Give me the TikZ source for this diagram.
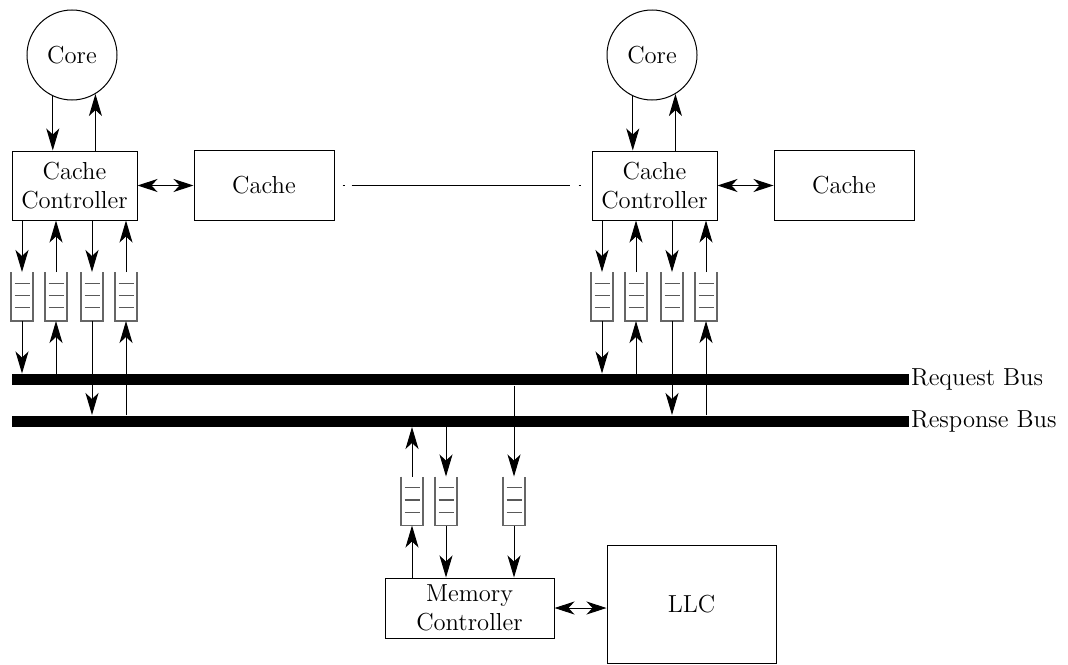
\documentclass[tikz,border=0pt]{standalone}
\usepackage{tikz}
\usetikzlibrary{arrows.meta,positioning,calc}
\newcommand{\queue}[2]{%
  \node[queue] (#1) at (#2) {};
  \draw[qwall] (#1.north west) |- (#1.south) -| (#1.north east);
  \foreach \f in {0.23,0.48,0.73}
    \draw[qbar] ($(#1.north west)!\f!(#1.south west)+(1.75pt,0)$) -- ($(#1.north east)!\f!(#1.south east)+(-1.75pt,0)$);
}
\begin{document}
\begin{tikzpicture}[
    x=0.5pt, y=-0.5pt,
    line width=0.5pt,
    every node/.style={font=\fontsize{12.3}{14.8}\selectfont},
    box/.style={rectangle,draw,align=center,inner sep=0pt},
    core/.style={circle,draw,minimum size=45pt,inner sep=0pt},
    bus/.style={rectangle,fill=black,minimum width=448.5pt,minimum height=5.5pt,inner sep=0pt},
    queue/.style={rectangle,minimum width=10.5pt,minimum height=24pt,inner sep=0pt},
    qwall/.style={draw=black!60,line width=0.6pt},
    qbar/.style={draw=black!65,line width=0.6pt},
    arrow/.style={-{Stealth[length=11pt,width=6.5pt,inset=3pt]}},
    twoway/.style={{Stealth[length=10pt,width=6.5pt,inset=3pt]}-{Stealth[length=10pt,width=6.5pt,inset=3pt]}}
  ]
    \useasboundingbox (0,0) rectangle (1068,664);

    % buses
    \node[bus] (reqbus) at (460.5,379.5) {};
    \node[right=0.5pt of reqbus,inner sep=0pt] (reqlabel) {Request Bus};
    \node[bus] (respbus) at (460.5,421) {};
    \node[right=0.5pt of respbus,inner sep=0pt] (resplabel) {Response Bus};

    % the two cores with their controllers
    \foreach \g/\dx in {l/0,r/580}{
      \node[core] (core\g) at (72+\dx,55) {Core};
      \node[box,minimum width=62.5pt,minimum height=34.5pt] (cc\g) at (74.5+\dx,185.5) {Cache\\Controller};
      \node[box,minimum width=70pt,minimum height=35pt,right=28pt of cc\g] (cache\g) {Cache};
      \queue{qa\g}{22+\dx,296.5}
      \queue{qb\g}{56+\dx,296.5}
      \queue{qc\g}{92+\dx,296.5}
      \queue{qd\g}{126+\dx,296.5}

      \draw[arrow] (core\g.245) -- (core\g.245 |- cc\g.north);
      \draw[arrow] (core\g.-59 |- cc\g.north) -- (core\g.-59);
      \draw[twoway] (cc\g) -- (cache\g);
      \draw[arrow] (qa\g.north |- cc\g.south) -- (qa\g.north);
      \draw[arrow] (qa\g.south) -- (qa\g.south |- reqbus.north);
      \draw[arrow] (qb\g.south |- reqbus.north) -- (qb\g.south);
      \draw[arrow] (qb\g.north) -- (qb\g.north |- cc\g.south);
      \draw[arrow] (qc\g.north |- cc\g.south) -- (qc\g.north);
      \draw[arrow] (qc\g.south) -- (qc\g.south |- respbus.north);
      \draw[arrow] (qd\g.south |- respbus.north) -- (qd\g.south);
      \draw[arrow] (qd\g.north) -- (qd\g.north |- cc\g.south);
    }
    \draw[dash pattern=on 0pt off 4pt on 1pt off 3.5pt on 109pt off 4.5pt on 1pt off 20pt] (cachel.east) -- (ccr.west);

    % memory side
    \node[box,minimum width=84.5pt,minimum height=30pt] (mc) at (469.5,608) {Memory\\Controller};
    \node[box,minimum width=84.5pt,minimum height=59pt] (llc) at (691.5,604) {LLC};
    \queue{mqa}{412,501}
    \queue{mqb}{446,501}
    \queue{mqc}{514,501}

    \draw[arrow] (mqa.south |- mc.north) -- (mqa.south);
    \draw[arrow] (mqa.north) -- (mqa.north |- respbus.south);
    \draw[arrow] (mqb.north |- respbus.south) -- (mqb.north);
    \draw[arrow] (mqb.south) -- (mqb.south |- mc.north);
    \draw[arrow] (mqc.north |- reqbus.south) -- (mqc.north);
    \draw[arrow] (mqc.south) -- (mqc.south |- mc.north);
    \draw[twoway] (mc.east) -- (mc.east -| llc.west);
  \end{tikzpicture}
\end{document}
